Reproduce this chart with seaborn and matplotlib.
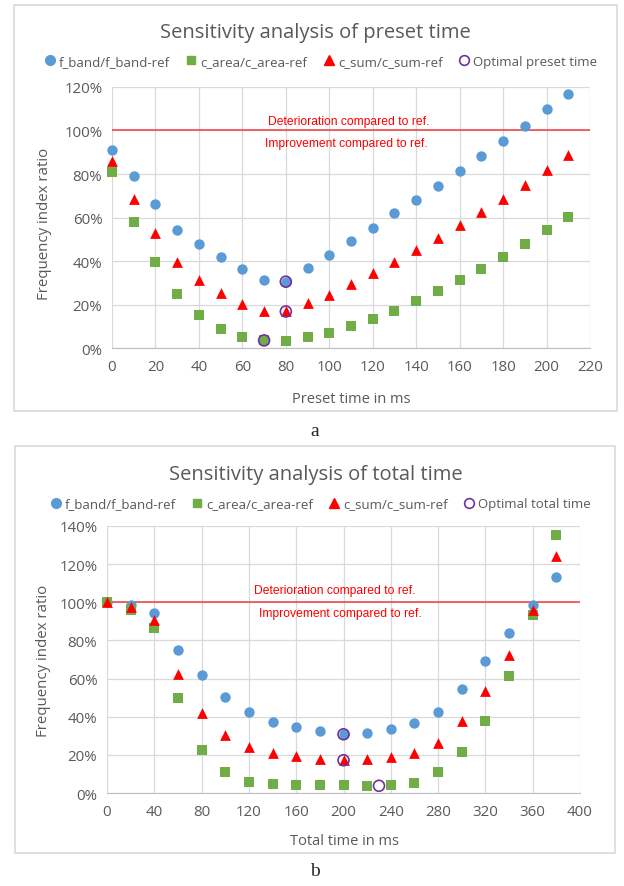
import matplotlib
matplotlib.use("Agg")
import matplotlib.pyplot as plt
from matplotlib.lines import Line2D
from matplotlib.patches import Rectangle
from matplotlib.ticker import PercentFormatter, MultipleLocator
import seaborn as sns

# --- panel a: preset time sweep ---
preset_time = [0, 10, 20, 30, 40, 50, 60, 70, 80, 90, 100,
               110, 120, 130, 140, 150, 160, 170, 180, 190, 200, 210]
preset_f_band = [0.912, 0.792, 0.662, 0.544, 0.478, 0.417, 0.363, 0.313, 0.305, 0.368, 0.429,
                 0.490, 0.554, 0.620, 0.682, 0.745, 0.814, 0.883, 0.950, 1.021, 1.097, 1.166]
preset_c_area = [0.809, 0.579, 0.394, 0.250, 0.152, 0.089, 0.051, 0.035, 0.032, 0.049, 0.067,
                 0.099, 0.135, 0.171, 0.214, 0.262, 0.311, 0.363, 0.418, 0.478, 0.541, 0.602]
preset_c_sum = [0.860, 0.686, 0.529, 0.395, 0.315, 0.251, 0.204, 0.171, 0.168, 0.207, 0.244,
                0.294, 0.345, 0.395, 0.449, 0.506, 0.564, 0.625, 0.683, 0.751, 0.818, 0.886]
preset_opt_x = [80, 80, 70]
preset_opt_y = [0.305, 0.168, 0.035]

# --- panel b: total time sweep ---
total_time = [0, 20, 40, 60, 80, 100, 120, 140, 160, 180, 200,
              220, 240, 260, 280, 300, 320, 340, 360, 380]
total_f_band = [1.000, 0.985, 0.943, 0.752, 0.619, 0.506, 0.423, 0.373, 0.346, 0.325, 0.308,
                0.317, 0.338, 0.367, 0.423, 0.546, 0.691, 0.838, 0.987, 1.130]
total_c_area = [1.000, 0.961, 0.866, 0.499, 0.227, 0.109, 0.059, 0.049, 0.044, 0.044, 0.042,
                0.038, 0.042, 0.054, 0.112, 0.214, 0.378, 0.613, 0.931, 1.354]
total_c_sum = [1.000, 0.975, 0.905, 0.626, 0.422, 0.304, 0.240, 0.208, 0.193, 0.180, 0.172,
               0.178, 0.187, 0.210, 0.261, 0.378, 0.535, 0.722, 0.957, 1.242]
total_opt_x = [200, 200, 230]
total_opt_y = [0.308, 0.172, 0.038]

labels = ["f_band/f_band-ref", "c_area/c_area-ref", "c_sum/c_sum-ref"]
BLUE, GREEN, RED, PURPLE = "#5b9bd5", "#70ad47", "#ff0000", "#7030a0"
LINE_RED = "#ee4b4b"
GRAY = "#595959"

sns.set_style("white")
plt.rcParams["font.family"] = ["Open Sans", "DejaVu Sans"]

fig = plt.figure(figsize=(6.24, 8.87), dpi=100)

# chart frames
for box in [(0.0224, 0.5355, 0.966, 0.4577), (0.024, 0.0372, 0.962, 0.4589)]:
    fig.patches.append(Rectangle(box[:2], box[2], box[3], transform=fig.transFigure,
                                 facecolor="none", edgecolor="#d9d9d9", lw=1.2, zorder=0))


def draw(ax, x, f_band, c_area, c_sum, opt_x, opt_y, xmax, xstep, ymax):
    sns.scatterplot(x=x, y=f_band, marker="o", s=56, color=BLUE, linewidth=0, ax=ax,
                    zorder=3, clip_on=False)
    sns.scatterplot(x=x, y=c_area, marker="s", s=48, color=GREEN, linewidth=0, ax=ax,
                    zorder=3, clip_on=False)
    sns.scatterplot(x=x, y=c_sum, marker="^", s=60, color=RED, linewidth=0, ax=ax,
                    zorder=3, clip_on=False)
    sns.scatterplot(x=opt_x, y=opt_y, marker="o", s=62, facecolor="none", edgecolor=PURPLE,
                    linewidth=1.2, ax=ax, zorder=4, clip_on=False)
    ax.axhline(1.0, color=LINE_RED, lw=1.2, zorder=2)
    ax.set_xlim(0, xmax)
    ax.set_ylim(0, ymax)
    ax.xaxis.set_major_locator(MultipleLocator(xstep))
    ax.yaxis.set_major_locator(MultipleLocator(0.2))
    ax.yaxis.set_major_formatter(PercentFormatter(1.0, decimals=0))
    ax.grid(True, color="#d9d9d9", lw=0.9, zorder=0)
    ax.set_axisbelow(True)
    for s in ["top", "right", "left"]:
        ax.spines[s].set_visible(False)
    ax.spines["bottom"].set_color("#bfbfbf")
    ax.tick_params(axis="both", length=0, labelsize=10.8, labelcolor=GRAY)
    ax.tick_params(axis="x", pad=8)
    ax.tick_params(axis="y", pad=7)


ax1 = fig.add_axes([0.1795, 0.6065, 0.766, 0.2943])
draw(ax1, preset_time, preset_f_band, preset_c_area, preset_c_sum,
     preset_opt_x, preset_opt_y, 220, 20, 1.2)
ax1.set_xlabel("Preset time in ms", fontsize=10.5, color=GRAY)
ax1.set_ylabel("Frequency index ratio", fontsize=10.8, color=GRAY)
ax1.xaxis.set_label_coords(0.5, -0.165)
ax1.yaxis.set_label_coords(-0.125, 0.48)
ax1.text(109, 1.045, "Deterioration compared to ref.", color=RED, fontsize=8.7,
         family="Liberation Sans", ha="center", va="center")
ax1.text(108, 0.944, "Improvement compared to ref.", color=RED, fontsize=8.7,
         family="Liberation Sans", ha="center", va="center")

ax2 = fig.add_axes([0.1715, 0.1048, 0.758, 0.3011])
draw(ax2, total_time, total_f_band, total_c_area, total_c_sum,
     total_opt_x, total_opt_y, 400, 40, 1.4)
ax2.set_xlabel("Total time in ms", fontsize=10.5, color=GRAY)
ax2.set_ylabel("Frequency index ratio", fontsize=10.8, color=GRAY)
ax2.xaxis.set_label_coords(0.503, -0.148)
ax2.yaxis.set_label_coords(-0.118, 0.5)
ax2.text(193, 1.062, "Deterioration compared to ref.", color=RED, fontsize=8.7,
         family="Liberation Sans", ha="center", va="center")
ax2.text(197, 0.945, "Improvement compared to ref.", color=RED, fontsize=8.7,
         family="Liberation Sans", ha="center", va="center")

fig.text(0.505, 0.9628, "Sensitivity analysis of preset time", fontsize=14.5, color=GRAY,
         ha="center", va="center")
fig.text(0.506, 0.4645, "Sensitivity analysis of total time", fontsize=14.5, color=GRAY,
         ha="center", va="center")


def legend_handles(opt_label):
    return [
        Line2D([], [], ls="", marker="o", ms=7, color=BLUE, label=labels[0]),
        Line2D([], [], ls="", marker="s", ms=6, color=GREEN, label=labels[1]),
        Line2D([], [], ls="", marker="^", ms=7, color=RED, label=labels[2]),
        Line2D([], [], ls="", marker="o", ms=7, mfc="none", mec=PURPLE, mew=1.2, label=opt_label),
    ]


for y, lab in [(0.930, "Optimal preset time"), (0.4307, "Optimal total time")]:
    leg = fig.legend(handles=legend_handles(lab), loc="center", bbox_to_anchor=(0.513, y),
                     ncol=4, frameon=False, fontsize=9.5, handletextpad=0.2,
                     columnspacing=1.1, handlelength=1.0, labelcolor=GRAY)

fig.text(0.505, 0.513, "a", fontsize=14, family="Liberation Serif", ha="center", va="center")
fig.text(0.505, 0.017, "b", fontsize=14, family="Liberation Serif", ha="center", va="center")

plt.savefig("out.png", dpi=100)
